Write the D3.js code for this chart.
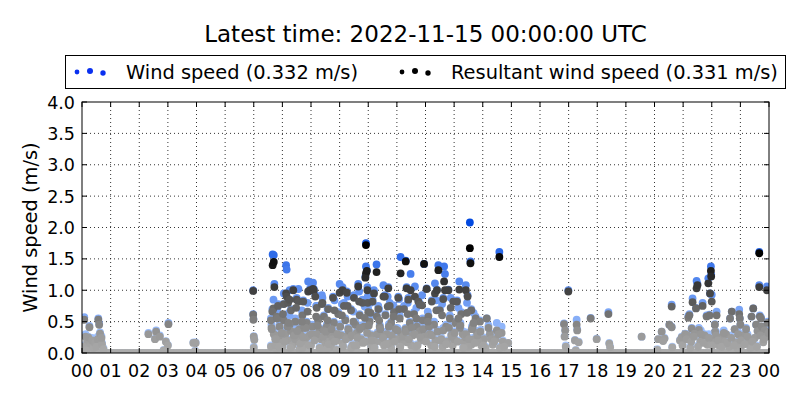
<!DOCTYPE html>
<html><head><meta charset="utf-8">
<script src="https://cdn.jsdelivr.net/npm/d3@7"></script>
<style>body{margin:0;background:#fff}text{font-family:"DejaVu Sans",sans-serif;fill:#000}</style>
</head><body><svg id="c" width="800" height="400"></svg>
<script>
const titleText = "Latest time: 2022-11-15 00:00:00 UTC";
const yLabelText = "Wind speed (m/s)";
const seriesNames = ["Wind speed (0.332 m/s)", "Resultant wind speed (0.331 m/s)"];
const hourTicks = [0,1,2,3,4,5,6,7,8,9,10,11,12,13,14,15,16,17,18,19,20,21,22,23,24];
const hourLabels = ["00","01","02","03","04","05","06","07","08","09","10","11","12","13","14","15","16","17","18","19","20","21","22","23","00"];
const speedTicks = [0,0.5,1,1.5,2,2.5,3,3.5,4];
const speedLabels = ["0.0","0.5","1.0","1.5","2.0","2.5","3.0","3.5","4.0"];

// observation times (hours, UTC)
const times = [
 0.08,0.12,0.18,0.26,0.22,0.30,0.35,0.40,0.45,0.50,0.55,0.57,0.60,0.63,0.66,0.70,0.75,0.05,0.15,0.68,
 2.32,2.59,2.55,2.72,2.93,3.02,3.00,2.85,3.89,3.97,3.95,
 5.98,5.98,5.99,6.00,6.02,6.00,
 6.66,6.70,6.72,6.69,6.65,6.60,6.62,6.70,6.75,6.80,6.85,6.90,6.95,6.60,6.80,
 7.13,7.15,7.05,7.20,7.25,7.30,7.38,7.45,7.50,7.56,7.60,7.65,7.70,7.73,7.80,7.85,7.90,7.97,7.10,7.20,7.35,7.40,7.55,7.75,7.95,7.05,7.25,7.60,
 8.07,8.10,8.15,8.20,8.25,8.30,8.35,8.40,8.45,8.50,8.55,8.60,8.65,8.70,8.77,8.80,8.85,8.90,8.95,9.00,9.10,9.15,9.20,9.25,9.30,9.35,9.40,9.45,9.50,9.55,9.60,9.65,9.70,9.75,9.80,9.85,8.20,8.60,9.05,9.40,8.30,8.90,
 9.92,9.92,9.90,9.95,9.97,9.98,10.00,10.05,10.10,10.15,10.20,10.29,10.35,10.40,10.45,10.53,10.58,10.60,10.65,10.70,10.75,10.80,10.85,10.90,10.95,10.10,10.55,10.30,10.80,
 11.13,11.31,11.48,11.05,11.10,11.15,11.20,11.25,11.34,11.40,11.45,11.55,11.60,11.63,11.70,11.75,11.80,11.85,11.90,11.95,11.10,11.50,11.30,
 12.04,12.10,12.15,12.22,12.30,12.33,12.40,12.45,12.50,12.55,12.62,12.65,12.68,12.72,12.80,12.85,12.90,12.97,12.20,12.60,12.95,
 13.05,13.10,13.18,13.25,13.30,13.35,13.41,13.47,13.55,13.57,13.60,13.65,13.70,13.75,13.80,13.90,13.95,13.20,13.50,
 14.14,14.25,14.30,14.35,14.49,14.58,14.66,14.70,14.89,14.05,14.10,
 16.99,16.84,16.88,16.86,16.90,17.28,17.30,17.22,17.35,17.25,17.77,17.98,18.39,18.42,18.45,19.55,
 20.13,20.25,20.35,20.30,20.10,20.60,20.52,20.60,20.62,20.89,20.95,21.07,21.18,21.22,21.33,21.45,21.47,21.50,21.68,21.30,21.55,21.40,21.15,21.82,21.88,21.97,21.98,21.94,22.00,21.92,22.11,22.17,22.12,21.60,21.75,21.85,21.25,22.05,22.25,22.30,
 22.70,22.64,22.96,22.98,23.00,22.50,22.80,22.45,22.60,22.85,23.10,23.20,23.30,23.45,23.39,23.68,23.72,23.66,23.66,23.93,23.55,23.60,23.75,23.85,23.50,23.80,23.90,23.95,23.35,22.90,23.05,
 6.75,6.90,7.00,7.30,7.45,7.70,7.85,8.00,8.05,8.45,8.55,8.75,9.10,9.25,9.60,9.70,9.90,10.25,10.50,10.70,11.00,11.35,11.65,11.80,12.00,12.35,12.75,13.00,13.40,13.60,13.85,14.45,14.60,
 6.63,6.78,6.88,6.98,7.08,7.18,7.28,7.42,7.52,7.62,7.72,7.82,7.92,8.02,8.12,8.22,8.32,8.42,8.52,8.62,8.72,8.82,8.92,9.02,9.12,9.22,9.32,9.42,9.52,9.62,9.72,9.82,9.96,10.02,10.12,10.22,10.32,10.42,10.52,10.62,10.72,10.82,10.92,11.02,11.12,11.22,11.32,11.42,11.52,11.62,11.72,11.82,11.92,12.02,12.12,12.22,12.32,12.42,12.52,12.62,12.72,12.82,12.92,13.02,13.12,13.22,13.32,13.42,13.52,13.62,13.72,13.82,13.92,14.02,14.20,14.40,14.55,14.75,
 6.82,7.02,7.22,7.48,7.68,7.88,8.18,8.38,8.58,8.82,9.08,9.28,9.48,9.68,9.88,10.08,10.38,10.68,10.88,11.08,11.38,11.68,11.88,12.08,12.38,12.58,12.88,13.15,13.45,13.68,
 20.98,21.12,21.28,21.38,21.52,21.62,21.72,21.90,22.02,22.15,22.22,22.35,22.42,22.55,22.68,22.78,22.92,23.02,23.15,23.25,23.42,23.58,23.70,23.82,23.98
];
// wind speed (m/s)
const windSpeed = [
 0.57,0.30,0.22,0.43,0.26,0.15,0.24,0.10,0.18,0.12,0.26,0.55,0.47,0.33,0.22,0.16,0.08,0.12,0.05,0.27,
 0.32,0.36,0.23,0.28,0.19,0.48,0.13,0.05,0.17,0.17,0.04,
 1.00,0.62,0.54,0.27,0.22,0.10,
 1.57,1.56,1.10,0.85,0.70,0.55,0.45,0.35,0.25,0.60,0.78,0.45,0.20,0.12,0.08,
 1.40,1.33,0.95,0.82,1.00,0.70,1.02,0.55,0.88,1.02,0.40,0.30,0.62,0.84,0.18,0.50,1.14,1.03,0.35,0.22,0.15,0.30,0.20,0.42,0.30,0.55,0.60,0.08,
 1.12,1.02,0.93,0.75,0.55,0.40,0.25,0.88,0.60,0.18,0.45,0.72,0.30,0.12,0.90,0.50,0.35,0.22,0.65,1.10,1.05,0.80,0.55,0.98,0.40,0.28,0.70,0.15,0.92,0.50,0.35,1.10,0.62,0.25,0.85,0.45,0.32,0.20,0.30,0.10,0.10,0.06,
 1.75,1.38,1.22,1.32,1.05,0.90,0.70,0.55,0.30,0.85,1.00,1.41,0.75,0.45,0.20,1.08,0.92,0.62,0.35,1.05,0.80,0.50,0.25,0.68,0.40,0.12,0.15,0.60,0.10,
 1.53,1.47,1.26,0.90,0.60,0.35,0.20,0.75,1.05,0.88,0.50,0.30,0.65,1.06,0.45,0.84,0.79,0.22,0.55,1.42,0.10,0.15,0.40,
 1.03,0.60,0.35,0.84,0.50,1.11,1.01,1.40,0.70,0.25,0.88,1.38,1.26,0.45,1.01,0.60,0.30,0.84,0.15,0.12,0.15,
 0.50,0.84,1.14,0.65,0.35,0.20,1.08,0.92,2.08,1.46,0.70,0.45,0.25,0.58,0.35,0.52,0.15,0.42,0.12,
 0.55,0.32,0.25,0.15,0.48,1.61,0.42,0.20,0.16,0.25,0.10,
 1.00,0.47,0.37,0.27,0.12,0.53,0.38,0.21,0.18,0.05,0.56,0.23,0.65,0.16,0.10,0.26,
 0.22,0.34,0.24,0.20,0.06,0.77,0.45,0.42,0.10,0.21,0.26,0.31,0.59,0.62,0.87,0.72,1.15,1.10,0.80,0.40,0.40,0.32,0.30,0.60,1.19,1.38,1.25,0.95,0.93,0.61,0.46,0.66,0.35,0.20,0.30,0.15,0.10,0.22,0.15,0.25,
 0.66,0.55,0.69,0.55,0.45,0.30,0.38,0.20,0.12,0.18,0.30,0.40,0.20,0.71,0.58,0.60,0.57,1.61,1.08,1.06,0.45,0.35,0.42,0.38,0.24,0.18,0.28,0.50,0.10,0.08,0.14,
 0.15,0.30,0.12,0.45,0.25,0.10,0.28,0.15,0.45,0.38,0.08,0.25,0.18,0.30,0.15,0.40,0.20,0.20,0.30,0.18,0.25,0.20,0.12,0.38,0.30,0.22,0.20,0.25,0.28,0.15,0.20,0.25,0.10,
 0.40,0.24,0.12,0.36,0.20,0.45,0.10,0.30,0.40,0.17,0.27,0.44,0.14,0.33,0.22,0.48,0.08,0.28,0.38,0.16,0.41,0.20,0.33,0.46,0.12,0.24,0.40,0.30,0.14,0.26,0.44,0.18,0.35,0.48,0.22,0.10,0.33,0.42,0.26,0.16,0.46,0.30,0.20,0.40,0.12,0.28,0.37,0.24,0.44,0.33,0.14,0.27,0.42,0.20,0.46,0.30,0.12,0.37,0.22,0.40,0.16,0.44,0.28,0.35,0.20,0.48,0.10,0.33,0.24,0.42,0.18,0.30,0.37,0.14,0.44,0.20,0.33,0.12,
 0.70,0.78,0.64,0.86,0.68,0.80,0.75,0.92,0.70,0.84,0.78,0.90,0.66,0.98,0.74,0.80,0.70,0.90,0.76,0.86,0.80,0.72,0.92,0.66,0.84,0.78,0.88,0.72,0.80,0.64,
 0.14,0.26,0.20,0.30,0.12,0.36,0.18,0.30,0.14,0.34,0.22,0.12,0.36,0.18,0.28,0.14,0.34,0.22,0.16,0.30,0.20,0.12,0.32,0.24,0.36
];
// resultant wind speed (m/s)
const resultantSpeed = [
 0.53,0.26,0.18,0.41,0.25,0.12,0.20,0.08,0.16,0.10,0.22,0.53,0.45,0.31,0.21,0.14,0.06,0.10,0.04,0.24,
 0.30,0.34,0.22,0.26,0.18,0.46,0.12,0.04,0.16,0.16,0.03,
 0.99,0.61,0.53,0.26,0.21,0.08,
 1.40,1.45,1.05,0.71,0.66,0.52,0.40,0.30,0.22,0.58,0.75,0.42,0.18,0.10,0.06,
 0.95,0.90,0.78,0.80,0.85,0.68,1.00,0.50,0.85,0.82,0.38,0.28,0.60,0.82,0.15,0.48,0.98,1.00,0.30,0.20,0.12,0.27,0.18,0.40,0.28,0.52,0.45,0.06,
 1.02,1.00,0.90,0.72,0.52,0.38,0.22,0.80,0.58,0.15,0.42,0.70,0.28,0.10,0.88,0.48,0.30,0.20,0.62,0.96,1.00,0.75,0.52,0.96,0.38,0.25,0.68,0.12,0.88,0.45,0.32,1.06,0.60,0.22,0.80,0.42,0.30,0.18,0.28,0.08,0.08,0.05,
 1.72,1.27,1.20,1.31,1.00,0.80,0.65,0.50,0.28,0.82,0.95,1.29,0.70,0.42,0.18,0.90,0.90,0.60,0.30,1.03,0.75,0.48,0.22,0.65,0.38,0.10,0.12,0.58,0.08,
 1.27,1.46,1.00,0.88,0.55,0.30,0.18,0.70,1.03,0.85,0.48,0.28,0.62,0.90,0.42,0.82,0.77,0.20,0.52,1.42,0.08,0.12,0.38,
 1.02,0.58,0.30,0.82,0.45,0.95,1.00,1.32,0.68,0.22,0.86,1.14,1.00,0.42,1.00,0.55,0.28,0.82,0.12,0.10,0.12,
 0.48,0.82,1.01,0.62,0.30,0.18,1.00,0.90,1.67,1.43,0.68,0.42,0.22,0.55,0.32,0.50,0.12,0.40,0.10,
 0.55,0.30,0.22,0.13,0.36,1.53,0.32,0.18,0.16,0.22,0.08,
 0.98,0.46,0.36,0.26,0.10,0.45,0.36,0.20,0.17,0.04,0.55,0.22,0.62,0.15,0.09,0.26,
 0.22,0.34,0.23,0.19,0.05,0.74,0.45,0.41,0.09,0.20,0.25,0.30,0.56,0.60,0.81,0.71,1.03,1.08,0.75,0.39,0.37,0.31,0.28,0.58,1.11,1.31,1.22,0.95,0.82,0.60,0.45,0.60,0.34,0.18,0.28,0.13,0.08,0.20,0.12,0.24,
 0.66,0.55,0.62,0.55,0.45,0.30,0.38,0.18,0.10,0.17,0.28,0.38,0.18,0.71,0.58,0.58,0.55,1.59,1.05,1.00,0.45,0.35,0.42,0.36,0.24,0.17,0.26,0.48,0.08,0.07,0.12,
 0.12,0.28,0.10,0.35,0.22,0.08,0.25,0.12,0.42,0.35,0.06,0.22,0.15,0.27,0.12,0.38,0.18,0.18,0.28,0.15,0.22,0.17,0.10,0.35,0.27,0.20,0.18,0.22,0.25,0.13,0.18,0.22,0.08,
 0.38,0.22,0.10,0.32,0.18,0.42,0.08,0.28,0.35,0.15,0.25,0.40,0.12,0.30,0.20,0.44,0.06,0.26,0.34,0.14,0.38,0.18,0.30,0.42,0.10,0.22,0.36,0.28,0.12,0.24,0.40,0.16,0.32,0.44,0.20,0.08,0.30,0.38,0.24,0.14,0.42,0.28,0.18,0.36,0.10,0.26,0.34,0.22,0.40,0.30,0.12,0.25,0.38,0.18,0.42,0.28,0.10,0.34,0.20,0.36,0.14,0.40,0.26,0.32,0.18,0.44,0.08,0.30,0.22,0.38,0.16,0.28,0.34,0.12,0.40,0.18,0.30,0.10,
 0.55,0.62,0.48,0.72,0.50,0.66,0.58,0.78,0.52,0.68,0.60,0.75,0.50,0.82,0.56,0.64,0.52,0.74,0.58,0.70,0.62,0.55,0.76,0.50,0.68,0.60,0.72,0.55,0.64,0.48,
 0.12,0.22,0.18,0.26,0.10,0.30,0.16,0.24,0.12,0.28,0.20,0.10,0.32,0.16,0.24,0.12,0.30,0.20,0.14,0.26,0.18,0.10,0.28,0.22,0.32
];
// times with calm readings (0 m/s for both series)
const calmTimes = [
 0,0.1,0.2,0.3,0.4,0.5,0.6,0.7,0.8,0.9,1,1.1,1.2,1.3,1.4,1.5,1.6,1.7,1.8,1.9,2,2.1,2.2,2.3,2.4,2.5,2.6,2.7,2.8,2.9,
 3,3.1,3.2,3.3,3.4,3.5,3.6,3.7,3.8,3.9,4,4.1,4.2,4.3,4.4,4.5,4.6,4.7,4.8,4.9,5,5.1,5.2,5.3,5.4,5.5,5.6,5.7,5.8,5.9,
 6,6.1,6.2,6.3,6.4,6.5,6.6,6.7,6.8,6.9,7,7.1,7.2,7.3,7.4,7.5,7.6,7.7,7.8,7.9,8,8.1,8.2,8.3,8.4,8.5,8.6,8.7,8.8,8.9,
 9,9.1,9.2,9.3,9.4,9.5,9.6,9.7,9.8,9.9,10,10.1,10.2,10.3,10.4,10.5,10.6,10.7,10.8,10.9,11,11.1,11.2,11.3,11.4,11.5,11.6,11.7,11.8,11.9,
 12,12.1,12.2,12.3,12.4,12.5,12.6,12.7,12.8,12.9,13,13.1,13.2,13.3,13.4,13.5,13.6,13.7,13.8,13.9,14,14.1,14.2,14.3,14.4,14.5,14.6,14.7,14.8,14.9,
 15,15.1,15.2,15.3,15.4,15.5,15.6,15.7,15.8,15.9,16,16.1,16.2,16.3,16.4,16.5,16.6,16.7,16.8,16.9,17,17.1,17.2,17.3,17.4,17.5,17.6,17.7,17.8,17.9,
 18,18.1,18.2,18.3,18.4,18.5,18.6,18.7,18.8,18.9,19,19.1,19.2,19.3,19.4,19.5,19.6,19.7,19.8,19.9,20,20.1,20.2,20.3,20.4,20.5,20.6,20.7,20.8,20.9,
 21,21.1,21.2,21.3,21.4,21.5,21.6,21.7,21.8,21.9,22,22.1,22.2,22.3,22.4,22.5,22.6,22.7,22.8,22.9,23,23.1,23.2,23.3,23.4,23.5,23.6,23.7,23.8,23.9,24
];

const M = {left: 82, right: 769, top: 102, bottom: 353};
const svg = d3.select("#c");
const x = d3.scaleLinear().domain([0, 24]).range([M.left, M.right]);
const y = d3.scaleLinear().domain([0, 4]).range([M.bottom, M.top]);

const blueColor = v => d3.interpolateRgb("#b4d0ff", "#0048e0")(Math.min(1, v / 2.1));
const grayLevel = d3.scaleLinear().domain([0, 0.3, 0.7, 1.0, 1.6]).range([172, 152, 105, 64, 0]).clamp(true);
const grayColor = v => { const L = Math.round(grayLevel(v)); return `rgb(${L},${L},${L})`; };

const n = Math.min(times.length, windSpeed.length, resultantSpeed.length);
const wsPts = [], rsPts = [];
calmTimes.forEach(t => { wsPts.push([t, 0]); rsPts.push([t, 0]); });
for (let i = 0; i < n; i++) { wsPts.push([times[i], windSpeed[i]]); rsPts.push([times[i], resultantSpeed[i]]); }

svg.append("defs").append("clipPath").attr("id", "clip")
  .append("rect").attr("x", M.left).attr("y", M.top).attr("width", M.right - M.left).attr("height", M.bottom - M.top);

// grid
const grid = svg.append("g");
grid.selectAll(".gx").data(hourTicks.slice(1, -1)).join("line")
  .attr("x1", d => x(d)).attr("x2", d => x(d)).attr("y1", M.top).attr("y2", M.bottom)
  .attr("stroke", "#000").attr("stroke-width", 0.8).attr("stroke-dasharray", "1,3");
grid.selectAll(".gy").data(speedTicks.slice(1, -1)).join("line")
  .attr("y1", d => y(d)).attr("y2", d => y(d)).attr("x1", M.left).attr("x2", M.right)
  .attr("stroke", "#000").attr("stroke-width", 0.8).attr("stroke-dasharray", "1,3");

// points: wind speed first, resultant on top
const pg = svg.append("g").attr("clip-path", "url(#clip)");
const R = 3.9;
pg.append("g").selectAll("circle").data(wsPts).join("circle")
  .attr("cx", d => x(d[0])).attr("cy", d => y(d[1])).attr("r", R).attr("fill", d => blueColor(d[1]));
pg.append("g").selectAll("circle").data(rsPts).join("circle")
  .attr("cx", d => x(d[0])).attr("cy", d => y(d[1])).attr("r", R).attr("fill", d => grayColor(d[1]));

// frame
svg.append("rect").attr("x", M.left).attr("y", M.top).attr("width", M.right - M.left).attr("height", M.bottom - M.top)
  .attr("fill", "none").attr("stroke", "#000").attr("stroke-width", 1);

// ticks (inward, all sides)
const tk = 5;
const tg = svg.append("g").attr("stroke", "#000").attr("stroke-width", 1);
hourTicks.forEach(h => {
  tg.append("line").attr("x1", x(h)).attr("x2", x(h)).attr("y1", M.bottom).attr("y2", M.bottom - tk);
  tg.append("line").attr("x1", x(h)).attr("x2", x(h)).attr("y1", M.top).attr("y2", M.top + tk);
});
speedTicks.forEach(v => {
  tg.append("line").attr("y1", y(v)).attr("y2", y(v)).attr("x1", M.left).attr("x2", M.left + tk);
  tg.append("line").attr("y1", y(v)).attr("y2", y(v)).attr("x1", M.right).attr("x2", M.right - tk);
});

// tick labels
svg.append("g").selectAll("text").data(hourTicks).join("text")
  .attr("x", d => x(d)).attr("y", M.bottom + 24).attr("text-anchor", "middle")
  .attr("font-size", 17.5).text((d, i) => hourLabels[i]);
svg.append("g").selectAll("text").data(speedTicks).join("text")
  .attr("x", M.left - 7).attr("y", d => y(d) + 6.5).attr("text-anchor", "end")
  .attr("font-size", 17.5).text((d, i) => speedLabels[i]);

// axis label
svg.append("text").attr("transform", `translate(37,${(M.top + M.bottom) / 2}) rotate(-90)`)
  .attr("text-anchor", "middle").attr("font-size", 19.4).text(yLabelText);

// title
svg.append("text").attr("x", (M.left + M.right) / 2).attr("y", 42).attr("text-anchor", "middle")
  .attr("font-size", 23).text(titleText);

// legend
const lg = svg.append("g");
lg.append("rect").attr("x", 65.5).attr("y", 55.5).attr("width", 720).attr("height", 33)
  .attr("fill", "#fff").attr("stroke", "#000").attr("stroke-width", 1);
const legendItems = [
  {name: seriesNames[0], color: "#0a30f0", x0: 77, tx: 126},
  {name: seriesNames[1], color: "#000", x0: 402, tx: 451}
];
const legendDotR = [2.4, 3.0, 2.7];
const legendDotDy = [0, -1, 1];
legendItems.forEach(it => {
  legendDotR.forEach((r, j) => {
    lg.append("circle").attr("cx", it.x0 + j * 13).attr("cy", 72 + legendDotDy[j]).attr("r", r).attr("fill", it.color);
  });
  lg.append("text").attr("x", it.tx).attr("y", 79).attr("font-size", 19.4).text(it.name);
});
</script></body></html>
